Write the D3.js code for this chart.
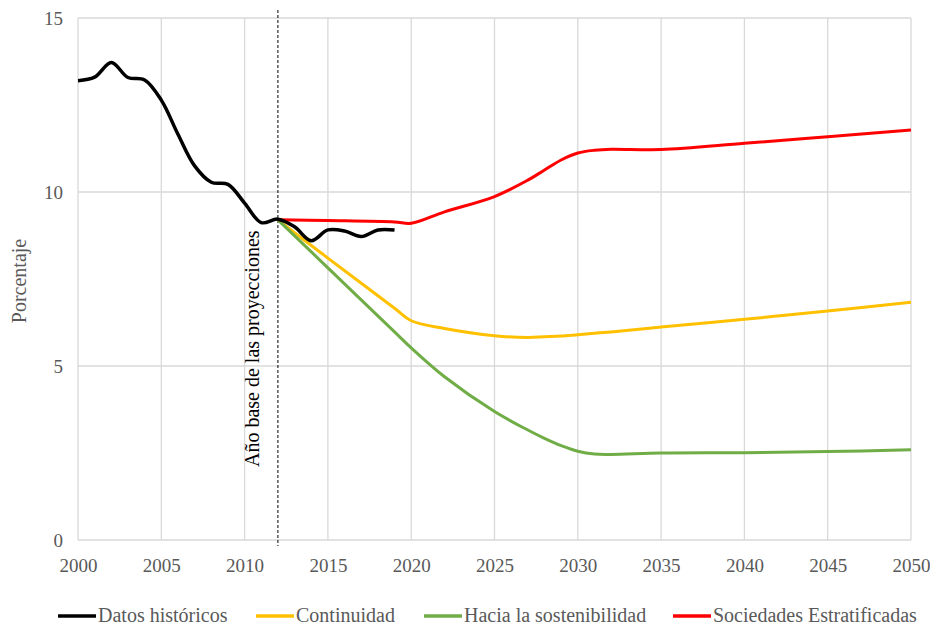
<!DOCTYPE html>
<html>
<head>
<meta charset="utf-8">
<script src="https://cdn.jsdelivr.net/npm/d3@7"></script>
<style>
  body { margin: 0; background: #fff; }
  svg { font-family: "Liberation Serif", "Times New Roman", serif; }
</style>
</head>
<body>
<div id="chart"></div>
<script>
// data
var histYears = [2000, 2001, 2002, 2003, 2004, 2005, 2006, 2007, 2008, 2009, 2010,
  2011, 2012, 2013, 2014, 2015, 2016, 2017, 2018, 2019];
var histValues = [13.2, 13.3, 13.72, 13.29, 13.22, 12.64, 11.66, 10.75, 10.28, 10.22, 9.68,
  9.12, 9.22, 9.0, 8.6, 8.91, 8.88, 8.72, 8.91, 8.91];

var projYears = [2012, 2015, 2019, 2020, 2022, 2025, 2027, 2028, 2029, 2030, 2031, 2032,
  2035, 2040, 2045, 2050];
var continuidad = [9.2, 8.1, 6.66, 6.3, 6.08, 5.87, 5.82, 5.84, 5.86, 5.9, 5.94, 5.98,
  6.12, 6.34, 6.58, 6.83];
var sostenibilidad = [9.2, 7.82, 5.98, 5.52, 4.69, 3.69, 3.16, 2.92, 2.71, 2.55, 2.47, 2.46,
  2.5, 2.51, 2.54, 2.59];
var estratificadas = [9.2, 9.18, 9.14, 9.1, 9.43, 9.87, 10.34, 10.63, 10.92, 11.12, 11.2, 11.23,
  11.22, 11.4, 11.59, 11.78];

var xTicks = [2000, 2005, 2010, 2015, 2020, 2025, 2030, 2035, 2040, 2045, 2050];
var yTicks = [0, 5, 10, 15];
var baseYear = 2012;

var seriesNames = ["Datos históricos", "Continuidad", "Hacia la sostenibilidad", "Sociedades Estratificadas"];
var seriesColors = ["#000000", "#FFC000", "#70AD47", "#FF0000"];

var width = 930, height = 625;
var margin = {top: 18, right: 19, bottom: 85, left: 78};
var serif = "'Liberation Serif', 'Times New Roman', serif";

var svg = d3.select("#chart").append("svg")
  .attr("width", width)
  .attr("height", height);

var x = d3.scaleLinear().domain([2000, 2050]).range([margin.left, width - margin.right]);
var y = d3.scaleLinear().domain([0, 15]).range([height - margin.bottom, margin.top]);

// gridlines
svg.append("g").selectAll("line.h")
  .data(yTicks)
  .enter().append("line")
  .attr("x1", x(2000)).attr("x2", x(2050))
  .attr("y1", function(d) { return y(d); })
  .attr("y2", function(d) { return y(d); })
  .attr("stroke", "#D9D9D9").attr("stroke-width", 1.3);

svg.append("g").selectAll("line.v")
  .data(xTicks)
  .enter().append("line")
  .attr("x1", function(d) { return x(d); })
  .attr("x2", function(d) { return x(d); })
  .attr("y1", y(15)).attr("y2", y(0))
  .attr("stroke", "#D9D9D9").attr("stroke-width", 1.3);

// axes (labels only)
var xAxis = svg.append("g")
  .attr("transform", "translate(0," + y(0) + ")")
  .call(d3.axisBottom(x).tickValues(xTicks).tickFormat(d3.format("d")).tickSize(0).tickPadding(15));
var yAxis = svg.append("g")
  .attr("transform", "translate(" + x(2000) + ",0)")
  .call(d3.axisLeft(y).tickValues(yTicks).tickSize(0).tickPadding(15));

[xAxis, yAxis].forEach(function(a) {
  a.attr("font-family", serif).attr("font-size", 19);
  a.select(".domain").remove();
  a.selectAll("text").attr("fill", "#595959");
});
xAxis.selectAll("text").attr("dy", "0.9em");

// y label
svg.append("text")
  .attr("transform", "translate(26," + 281 + ") rotate(-90)")
  .attr("text-anchor", "middle")
  .attr("fill", "#595959")
  .style("font-size", "20px")
  .text("Porcentaje");

// base year marker
svg.append("line")
  .attr("x1", x(baseYear)).attr("x2", x(baseYear))
  .attr("y1", 10).attr("y2", y(0) + 6)
  .attr("stroke", "#000").attr("stroke-width", 1)
  .attr("stroke-dasharray", "3,2");

svg.append("text")
  .attr("transform", "translate(" + (x(baseYear) - 19) + ",467) rotate(-90)")
  .attr("fill", "#000")
  .style("font-size", "20px")
  .text("Año base de las proyecciones");

// lines
var line = d3.line()
  .x(function(d) { return x(d[0]); })
  .y(function(d) { return y(d[1]); })
  .curve(d3.curveCatmullRom.alpha(0.5));

var projections = [continuidad, sostenibilidad, estratificadas];
projections.forEach(function(vals, i) {
  svg.append("path")
    .datum(d3.zip(projYears, vals))
    .attr("d", line)
    .attr("fill", "none")
    .attr("stroke", seriesColors[i + 1])
    .attr("stroke-width", 3)
    .attr("stroke-linejoin", "round");
});

svg.append("path")
  .datum(d3.zip(histYears, histValues))
  .attr("d", line)
  .attr("fill", "none")
  .attr("stroke", seriesColors[0])
  .attr("stroke-width", 3.5)
  .attr("stroke-linejoin", "round");

// legend
var legendX = [58, 256, 424, 673];
var legend = svg.append("g").selectAll("g")
  .data(seriesNames)
  .enter().append("g")
  .attr("transform", function(d, i) { return "translate(" + legendX[i] + ",616)"; });

legend.append("line")
  .attr("x1", 0).attr("x2", 38)
  .attr("stroke", function(d, i) { return seriesColors[i]; })
  .attr("stroke-width", 3.5);

legend.append("text")
  .attr("x", 40)
  .attr("y", 6)
  .attr("fill", "#595959")
  .style("font-size", "20px")
  .text(function(d) { return d; });
</script>
</body>
</html>
